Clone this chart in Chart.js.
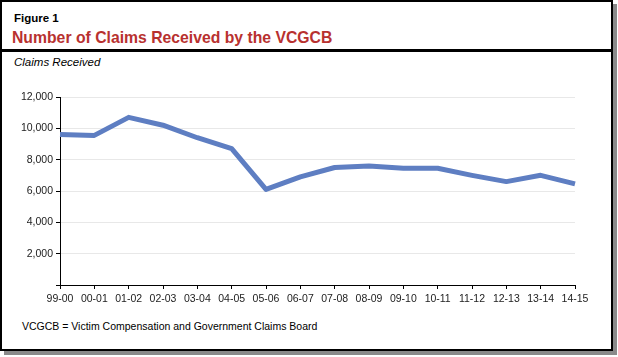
<!DOCTYPE html>
<html>
<head>
<meta charset="utf-8">
<script src="https://cdn.jsdelivr.net/npm/chart.js@4/dist/chart.umd.min.js"></script>
<style>
  html, body { margin: 0; padding: 0; background: #fff; }
  body { width: 618px; height: 357px; position: relative; overflow: hidden; font-family: "Liberation Sans", Arial, sans-serif; }
  #frame { position: absolute; left: 0; top: 0; width: 613px; height: 351px; box-sizing: border-box; border: 2px solid #000; box-shadow: 4px 4px 0 #8a8a8a; background: #fff; }
  #divider { position: absolute; left: 0; top: 49px; width: 613px; height: 3px; background: #000; }
  .t { position: absolute; white-space: nowrap; }
  #fig { left: 14px; top: 12px; font-size: 11.5px; font-weight: bold; color: #000; }
  #title { left: 12px; top: 29px; font-size: 15.75px; font-weight: bold; color: #b8312f; }
  #sub { left: 14px; top: 56px; font-size: 11.5px; font-style: italic; color: #000; }
  #foot { left: 22px; top: 320px; font-size: 10.5px; color: #000; }
  #c { position: absolute; left: 0; top: 70px; }
</style>
</head>
<body>
<div id="frame"></div>
<div id="divider"></div>
<div class="t" id="fig">Figure 1</div>
<div class="t" id="title">Number of Claims Received by the VCGCB</div>
<div class="t" id="sub">Claims Received</div>
<div class="t" id="foot">VCGCB = Victim Compensation and Government Claims Board</div>
<canvas id="c" width="618" height="250"></canvas>
<script>
const categories = ["99-00","00-01","01-02","02-03","03-04","04-05","05-06","06-07","07-08","08-09","09-10","10-11","11-12","12-13","13-14","14-15"];
const claimsReceived = [9600, 9550, 10700, 10200, 9400, 8700, 6100, 6900, 7500, 7600, 7450, 7450, 7000, 6600, 7000, 6450];
const yTicks = [2000, 4000, 6000, 8000, 10000, 12000];

new Chart(document.getElementById('c'), {
  type: 'line',
  data: {
    labels: categories,
    datasets: [{
      data: claimsReceived,
      borderColor: '#5e7ec2',
      borderWidth: 5,
      pointRadius: 0,
      tension: 0,
      fill: false,
      borderCapStyle: 'butt',
      borderJoinStyle: 'round'
    }]
  },
  options: {
    responsive: false,
    devicePixelRatio: 1,
    animation: false,
    layout: { padding: { left: 0, right: 43, top: 27, bottom: 0 } },
    plugins: { legend: { display: false }, tooltip: { enabled: false } },
    scales: {
      x: {
        offset: false,
        grid: { drawOnChartArea: false, drawTicks: true, tickLength: 4, tickColor: '#000' },
        border: { color: '#000', width: 1 },
        ticks: { color: '#222', padding: 4, maxRotation: 0, autoSkip: false, font: { family: 'Liberation Sans', size: 10.5 } },
        afterFit: s => { s.height = 35; }
      },
      y: {
        min: 0, max: 12000,
        afterBuildTicks: s => { s.ticks = [0].concat(yTicks).map(v => ({ value: v })); },
        grid: { color: '#e8e8e8', lineWidth: 1, drawTicks: true, tickLength: 4, tickColor: '#000' },
        border: { color: '#000', width: 1 },
        ticks: { color: '#222', padding: 3, font: { family: 'Liberation Sans', size: 10.5 },
          callback: v => v === 0 ? '' : v.toLocaleString('en-US') },
        afterFit: s => { s.width = 60; }
      }
    }
  }
});
</script>
</body>
</html>
